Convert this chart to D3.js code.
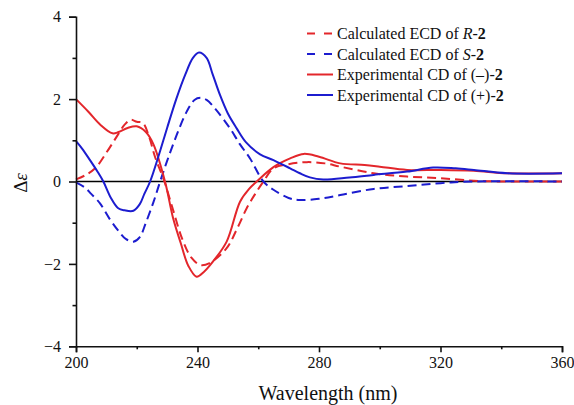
<!DOCTYPE html>
<html>
<head>
<meta charset="utf-8">
<script src="https://cdn.jsdelivr.net/npm/d3@7"></script>
<style>
  body { margin: 0; background: #fff; }
  svg text { font-family: 'Liberation Serif', 'Times New Roman', Times, 'DejaVu Serif', serif; fill: #111; }
</style>
</head>
<body>
<svg id="chart" width="574" height="405"></svg>
<script>
// wavelength (nm) / delta epsilon values
const calcRWave = [200, 203, 206.3, 210, 213.4, 216, 218, 220, 222, 224, 226, 229.1, 232, 235, 238, 241, 244, 249.6, 253, 256.2, 259, 261.7, 265, 270, 276, 282, 287, 298, 309, 320, 331, 340, 360];
const calcRVals = [0.05, 0.15, 0.32, 0.7, 1.09, 1.38, 1.5, 1.45, 1.42, 1.1, 0.6, 0, -0.7, -1.4, -1.85, -2.03, -1.98, -1.62, -1.15, -0.65, -0.3, 0, 0.32, 0.42, 0.47, 0.44, 0.36, 0.2, 0.12, 0.08, 0.02, 0.0, 0.0];

const calcSWave = [200, 203, 205, 207.9, 211, 214, 216.5, 218.9, 221, 223, 225.5, 227.7, 230, 233, 236.4, 239, 241, 243, 246, 250.7, 254, 257.3, 261.7, 265, 270, 273.7, 280, 287, 298, 309, 320, 331, 360];
const calcSVals = [-0.02, -0.15, -0.3, -0.53, -0.9, -1.2, -1.4, -1.46, -1.35, -1.0, -0.5, 0, 0.5, 1.1, 1.69, 1.98, 2.03, 1.98, 1.75, 1.29, 0.9, 0.56, 0, -0.2, -0.4, -0.45, -0.42, -0.33, -0.18, -0.11, -0.04, 0.0, 0.0];

const expMinusWave = [200, 204, 208, 212, 214, 217, 220, 223, 225.5, 229.3, 232, 234.5, 237, 239.7, 242, 245, 249.6, 254, 257, 259.5, 265, 270.5, 275, 280, 287, 295, 300, 309, 320, 331, 342, 360];
const expMinusVals = [2.0, 1.7, 1.38, 1.17, 1.2, 1.3, 1.34, 1.2, 0.9, 0, -0.9, -1.5, -2.05, -2.31, -2.2, -1.95, -1.46, -0.49, -0.18, 0, 0.35, 0.56, 0.67, 0.6, 0.44, 0.4, 0.36, 0.28, 0.28, 0.26, 0.2, 0.2];

const expPlusWave = [200, 202, 204.6, 207, 209, 211.5, 213.9, 216, 218.9, 221, 222.5, 224.4, 227.1, 230, 233, 236, 238.5, 240.5, 243, 245, 247.4, 250, 252.9, 256, 260.6, 265, 270.5, 273.7, 277, 281.4, 290, 298, 309, 317.6, 325, 331, 342, 360];
const expPlusVals = [0.98, 0.8, 0.52, 0.25, 0, -0.4, -0.65, -0.7, -0.71, -0.55, -0.3, 0, 0.6, 1.3, 2.0, 2.6, 3.0, 3.13, 3.0, 2.6, 2.1, 1.65, 1.29, 0.95, 0.66, 0.52, 0.32, 0.2, 0.1, 0.05, 0.1, 0.16, 0.24, 0.34, 0.32, 0.28, 0.2, 0.2];

const xTicks = [200, 240, 280, 320, 360];
const xMinor = [220, 260, 300, 340];
const yTicks = [-4, -2, 0, 2, 4];
const yMinor = [-3, -1, 1, 3];

const RED = '#e3262b';
const BLUE = '#1c1ccf';
const SERIF = "'Liberation Serif', 'Times New Roman', Times, 'DejaVu Serif', serif";

const series = [
  {wave: calcRWave, vals: calcRVals, color: RED, dash: '9,5'},
  {wave: calcSWave, vals: calcSVals, color: BLUE, dash: '9,5'},
  {wave: expMinusWave, vals: expMinusVals, color: RED, dash: null},
  {wave: expPlusWave, vals: expPlusVals, color: BLUE, dash: null}
];

const svg = d3.select('#chart');
const plotLeft = 76, plotRight = 562, plotTop = 16.7, plotBottom = 346.3;

const x = d3.scaleLinear().domain([200, 360]).range([plotLeft, plotRight]);
const y = d3.scaleLinear().domain([-4, 4]).range([plotBottom, plotTop]);

// zero line
svg.append('line')
  .attr('x1', x(200)).attr('x2', x(360))
  .attr('y1', y(0)).attr('y2', y(0))
  .attr('stroke', '#000').attr('stroke-width', 1.6);

const line = d3.line()
  .x(d => x(d[0]))
  .y(d => y(d[1]))
  .curve(d3.curveCatmullRom.alpha(0.5));

series.forEach(s => {
  const pts = s.wave.map((w, i) => [w, s.vals[i]]);
  svg.append('path')
    .datum(pts)
    .attr('d', line)
    .attr('fill', 'none')
    .attr('stroke', s.color)
    .attr('stroke-width', 2)
    .attr('stroke-dasharray', s.dash);
});

// axes
svg.append('g')
  .attr('transform', `translate(0,${plotBottom})`)
  .call(d3.axisBottom(x).tickValues(xTicks).tickSize(6).tickPadding(4).tickFormat(d3.format('d')));
svg.append('g')
  .attr('transform', `translate(0,${plotBottom})`)
  .call(d3.axisBottom(x).tickValues(xMinor).tickSize(3).tickFormat(''))
  .call(g => g.select('.domain').remove());

svg.append('g')
  .attr('transform', `translate(${plotLeft},0)`)
  .call(d3.axisLeft(y).tickValues(yTicks).tickSize(7).tickPadding(8));
svg.append('g')
  .attr('transform', `translate(${plotLeft},0)`)
  .call(d3.axisLeft(y).tickValues(yMinor).tickSize(3.5).tickFormat(''))
  .call(g => g.select('.domain').remove());

svg.selectAll('g').attr('font-family', null);
svg.selectAll('.domain').attr('stroke', '#111').attr('stroke-width', 1.6);
svg.selectAll('.tick line').attr('stroke', '#111').attr('stroke-width', 1.6);
svg.selectAll('.tick text')
  .style('font-family', SERIF)
  .style('font-size', '16px')
  .attr('fill', '#111');

// axis titles
svg.append('text')
  .attr('x', 328)
  .attr('y', 400)
  .attr('text-anchor', 'middle')
  .style('font-family', SERIF)
  .style('font-size', '20px')
  .text('Wavelength (nm)');

const yt = svg.append('text')
  .attr('transform', 'translate(27,183) rotate(-90)')
  .attr('text-anchor', 'middle')
  .style('font-family', SERIF)
  .style('font-size', '19px');
yt.append('tspan').text('Δ');
yt.append('tspan').style('font-style', 'italic').text('ε');

// legend
const legendItems = [
  {color: RED, dash: '8,9', parts: [['Calculated ECD of ', ''], ['R', 'italic'], ['-', ''], ['2', 'bold']]},
  {color: BLUE, dash: '8,9', parts: [['Calculated ECD of ', ''], ['S', 'italic'], ['-', ''], ['2', 'bold']]},
  {color: RED, dash: null, parts: [['Experimental CD of (–)-', ''], ['2', 'bold']]},
  {color: BLUE, dash: null, parts: [['Experimental CD of (+)-', ''], ['2', 'bold']]}
];
const legendY = [33.5, 54, 74.5, 95];

const lg = svg.append('g');
legendItems.forEach((it, i) => {
  const cy = legendY[i];
  lg.append('line')
    .attr('x1', 307).attr('x2', 333)
    .attr('y1', cy).attr('y2', cy)
    .attr('stroke', it.color).attr('stroke-width', 2)
    .attr('stroke-dasharray', it.dash);
  const t = lg.append('text')
    .attr('x', 337).attr('y', cy + 5.5)
    .style('font-family', SERIF)
    .style('font-size', '16px');
  it.parts.forEach(p => {
    const ts = t.append('tspan').text(p[0]);
    if (p[1] === 'italic') ts.style('font-style', 'italic');
    if (p[1] === 'bold') ts.style('font-weight', 'bold');
  });
});
</script>
</body>
</html>
